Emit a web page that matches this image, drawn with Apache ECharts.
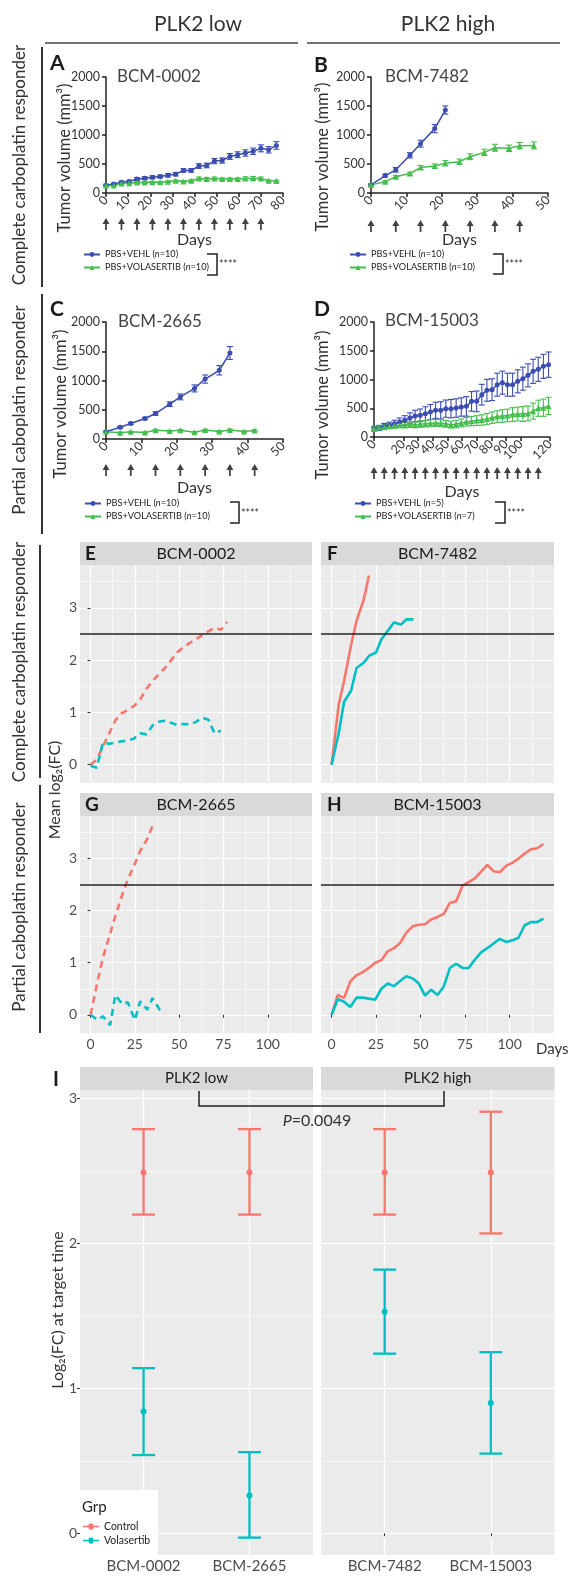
<!DOCTYPE html>
<html>
<head>
<meta charset="utf-8">
<script src="https://cdn.jsdelivr.net/npm/echarts@6/dist/echarts.min.js"></script>
<style>
html, body { margin: 0; padding: 0; background: #fff; }
#main { width: 572px; height: 1580px; }
</style>
</head>
<body>
<div id="main"></div>
<script>
// ---- tumour volumes (mm3), panels A-D ----
var daysA = [0,3.5,7,10.5,14,17.5,21,24.5,28,31.5,35,38.5,42,45.5,49,52.5,56,59.5,63,66.5,70,73.5,77];
var vehlA = [135,155,185,200,240,255,270,285,305,325,390,390,465,475,550,560,630,660,690,720,770,745,820];
var vehlErrA = [15,15,20,20,25,25,25,25,30,30,30,30,40,40,45,45,50,50,55,55,60,55,65];
var volaA = [130,130,165,170,180,180,185,185,195,210,200,210,250,240,250,240,240,240,250,255,250,210,205];
var volaErrA = [10,10,12,12,15,15,15,15,15,15,15,15,25,25,25,20,20,20,30,30,25,15,15];
var doseA = [0,7,14,21,28,35,42,49,56,63,70];

var daysVehlB = [0,4,7,11,14,18,21];
var vehlB = [140,300,400,650,850,1110,1430];
var vehlErrB = [15,25,40,45,60,70,70];
var daysVolaB = [0,4,7,11,14,18,21,25,28,32,35,39,42,46];
var volaB = [140,195,280,335,440,465,515,540,625,700,780,770,815,820];
var volaErrB = [10,15,20,25,35,35,45,45,50,55,60,55,55,60];
var doseB = [0,7,14,21,28,35,42];

var daysVehlC = [0,4,7,11,14,18,21,25,28,32,35];
var vehlC = [125,200,265,350,435,595,720,865,1025,1175,1470];
var vehlErrC = [10,15,20,20,30,40,50,60,70,80,110];
var daysVolaC = [0,4,7,11,14,18,21,25,28,32,35,39,42];
var volaC = [125,108,122,112,150,135,148,115,152,130,155,128,145];
var volaErrC = [10,10,10,10,15,12,12,12,15,12,15,12,12];
var doseC = [0,7,14,21,28,35,42];

var daysD = [0,3.5,7,10.5,14,17.5,21,24.5,28,31.5,35,38.5,42,45.5,49,52.5,56,59.5,63,66.5,70,73.5,77,80.5,84,87.5,91,94.5,98,101.5,105,108.5,112,115.5,119];
var vehlD = [145,157,186,203,232,261,290,330,365,377,406,435,464,464,493,493,504,522,533,620,620,736,812,823,910,945,910,910,968,1014,1072,1142,1177,1229,1258];
var vehlErrD = [40,45,50,55,60,70,80,90,100,110,120,130,140,150,150,160,160,160,170,170,180,180,190,190,200,200,200,200,200,200,200,210,210,210,220];
var volaD = [145,165,175,185,195,205,205,215,210,225,230,240,245,240,230,215,225,245,265,275,285,295,315,335,355,365,375,390,400,400,410,450,500,510,540];
var volaErrD = [30,30,30,35,40,40,45,50,50,55,55,60,60,60,60,60,65,70,75,80,85,90,95,100,100,110,110,120,120,130,130,140,140,150,150];
var doseD = [0,7,14,21,28,35,42,49,56,63,70,77,84,91,98,105,112];

// ---- mean log2(FC), panels E-H ----
var redE = [0,0.1,0.35,0.6,0.85,0.98,1.05,1.12,1.25,1.45,1.6,1.73,1.85,2.0,2.15,2.25,2.33,2.4,2.48,2.55,2.62,2.58,2.73];
var daysTealE = [0,3.5,7,10.5,14,17.5,21,24.5,28,31.5,35,38.5,42,45.5,49,52.5,56,59.5,63,66.5,70,73.5];
var tealE = [-0.02,-0.06,0.42,0.4,0.42,0.45,0.46,0.5,0.6,0.58,0.75,0.82,0.84,0.8,0.76,0.78,0.77,0.82,0.9,0.86,0.6,0.65];

var daysRedF = [0,4,7,11,14,18,21];
var redF = [0,1.15,1.6,2.3,2.75,3.15,3.62];
var daysTealF = [0,4,7,11,14,18,21,25,28,32,35,39,42,46];
var tealF = [0,0.6,1.2,1.42,1.85,1.95,2.08,2.15,2.4,2.58,2.72,2.68,2.78,2.78];

var daysRedG = [0,4,7,11,14,18,21,25,28,32,35];
var redG = [0,0.65,1.1,1.55,1.9,2.32,2.6,2.9,3.15,3.38,3.63];
var daysTealG = [0,4,7,11,14,18,21,25,28,32,35,39,42];
var tealG = [0,-0.1,-0.03,-0.2,0.38,0.2,0.24,-0.1,0.26,0.1,0.32,0.1,0.05];

var redH = [0,0.38,0.32,0.64,0.76,0.82,0.9,1.0,1.05,1.22,1.28,1.38,1.58,1.7,1.73,1.74,1.83,1.88,1.94,2.15,2.18,2.48,2.55,2.62,2.75,2.88,2.76,2.74,2.86,2.92,3.0,3.1,3.18,3.2,3.28];
var tealH = [0,0.3,0.25,0.15,0.33,0.33,0.31,0.29,0.5,0.6,0.55,0.65,0.74,0.7,0.6,0.37,0.48,0.38,0.54,0.9,0.98,0.9,0.9,1.06,1.2,1.28,1.37,1.46,1.4,1.43,1.48,1.72,1.78,1.78,1.85];

// ---- panel I: log2(FC) at target time ----
var iLowCats = ['BCM-0002', 'BCM-2665'];
var iHighCats = ['BCM-7482', 'BCM-15003'];
var ctrlMean = [2.49, 2.49, 2.49, 2.49];
var ctrlLow = [2.2, 2.2, 2.2, 2.07];
var ctrlHigh = [2.79, 2.79, 2.79, 2.91];
var volaMean = [0.84, 0.26, 1.53, 0.9];
var volaLow = [0.54, -0.03, 1.24, 0.55];
var volaHigh = [1.14, 0.56, 1.82, 1.25];

var ggXTicks = [0, 25, 50, 75, 100];
var ggXMinor = [12.5, 37.5, 62.5, 87.5, 112.5];
var ggYTicks = [0, 1, 2, 3];
var ggYMinor = [0.5, 1.5, 2.5, 3.5];

var FONT = 'Lato, "Open Sans", "DejaVu Sans", sans-serif';
var BLUE = '#3B4DB0', GREEN = '#45BE4E', RED = '#F8766D', TEAL = '#00BFC4';
var ARROW = 'path://M4,0L8,6.5L5,6.5L5,13L3,13L3,6.5L0,6.5Z';

function pairs(xs, ys) {
    return xs.map(function (x, i) { return [x, ys[i]]; });
}

// prism style axes
function prismX(gi, max, gap) {
    return {
        type: 'value', gridIndex: gi, min: 0, max: max, interval: 10,
        name: 'Days', nameLocation: 'middle', nameGap: gap, nameMoveOverlap: false,
        nameTextStyle: {fontSize: 16, color: '#333', fontFamily: FONT},
        axisLine: {show: true, lineStyle: {color: '#222', width: 1.5}},
        axisTick: {show: true, length: 4, lineStyle: {color: '#222', width: 1.5}},
        axisLabel: {rotate: 45, fontSize: 12.5, color: '#333', margin: 5, fontFamily: FONT,
            showMinLabel: true, showMaxLabel: true, hideOverlap: false,
            formatter: function (v) { return String(v); }},
        splitLine: {show: false}
    };
}
function prismY(gi) {
    return {
        type: 'value', gridIndex: gi, min: 0, max: 2000, interval: 500,
        axisLine: {show: true, lineStyle: {color: '#222', width: 1.5}},
        axisTick: {show: true, length: 4, lineStyle: {color: '#222', width: 1.5}},
        axisLabel: {fontSize: 12.5, color: '#333', margin: 6, fontFamily: FONT,
            showMinLabel: true, showMaxLabel: true,
            formatter: function (v) { return String(v); }},
        splitLine: {show: false}
    };
}
function hiddenAxis(gi, min, max) {
    return {type: 'value', gridIndex: gi, min: min, max: max, show: false};
}

// ggplot style axes
function ggX(gi, labels, minor) {
    return {
        type: 'value', gridIndex: gi, min: -5.95, max: 124.95, position: minor ? 'top' : 'bottom',
        axisLine: {show: false},
        axisTick: {show: labels, length: 3, customValues: minor ? ggXMinor : ggXTicks, lineStyle: {color: '#333'}},
        axisLabel: {show: labels, customValues: ggXTicks, fontSize: 14, color: '#4D4D4D', margin: 4, fontFamily: FONT},
        splitLine: {show: true, lineStyle: {color: '#fff', width: minor ? 0.6 : 1.2}}
    };
}
function ggY(gi, labels, minor) {
    return {
        type: 'value', gridIndex: gi, min: -0.35, max: 3.82, position: minor ? 'right' : 'left',
        axisLine: {show: false},
        axisTick: {show: labels, length: 3, customValues: minor ? ggYMinor : ggYTicks, lineStyle: {color: '#333'}},
        axisLabel: {show: labels, customValues: ggYTicks, fontSize: 14, color: '#4D4D4D', margin: 3, fontFamily: FONT},
        splitLine: {show: true, lineStyle: {color: '#fff', width: minor ? 0.6 : 1.2}}
    };
}
function iX(gi, cats) {
    return {
        type: 'value', gridIndex: gi, min: 0.4, max: 2.6,
        axisLine: {show: false},
        axisTick: {show: true, length: 3, customValues: [1, 2], lineStyle: {color: '#333'}},
        axisLabel: {customValues: [1, 2], formatter: function (v) { return cats[Math.round(v) - 1]; },
            fontSize: 15, color: '#4D4D4D', margin: 4, fontFamily: FONT},
        splitLine: {show: true, lineStyle: {color: '#fff', width: 1.2}}
    };
}
function iY(gi, labels, minor) {
    return {
        type: 'value', gridIndex: gi, min: -0.15, max: 3.06, position: minor ? 'right' : 'left',
        axisLine: {show: false},
        axisTick: {show: labels, length: 3, customValues: minor ? [0.5, 1.5, 2.5] : [0, 1, 2, 3], lineStyle: {color: '#333'}},
        axisLabel: {show: labels, customValues: [0, 1, 2, 3], fontSize: 14, color: '#4D4D4D', margin: 3, fontFamily: FONT},
        splitLine: {show: true, lineStyle: {color: '#fff', width: minor ? 0.6 : 1.2}}
    };
}

// series helpers
function errBars(ai, xs, ys, es, color) {
    return {
        type: 'custom', xAxisIndex: ai, yAxisIndex: ai, silent: true, z: 3,
        data: xs.map(function (x, i) { return [x, ys[i], es[i]]; }),
        encode: {x: 0, y: 1},
        renderItem: function (params, api) {
            var x = api.value(0), y = api.value(1), e = api.value(2);
            var hi = api.coord([x, y + e]), lo = api.coord([x, y - e]);
            var st = {stroke: color, lineWidth: 1.1, fill: null};
            return {type: 'group', children: [
                {type: 'line', shape: {x1: hi[0], y1: hi[1], x2: lo[0], y2: lo[1]}, style: st},
                {type: 'line', shape: {x1: hi[0] - 3, y1: hi[1], x2: hi[0] + 3, y2: hi[1]}, style: st},
                {type: 'line', shape: {x1: lo[0] - 3, y1: lo[1], x2: lo[0] + 3, y2: lo[1]}, style: st}
            ]};
        }
    };
}
function prismLine(name, ai, xs, ys, color, symbol) {
    return {
        type: 'line', name: name, xAxisIndex: ai, yAxisIndex: ai, data: pairs(xs, ys),
        symbol: symbol, symbolSize: symbol === 'triangle' ? 6 : 5, showSymbol: true,
        lineStyle: {color: color, width: 1.5}, itemStyle: {color: color}, z: 4
    };
}
function arrows(ai, doses) {
    return {
        type: 'scatter', xAxisIndex: ai, yAxisIndex: ai, silent: true,
        data: doses.map(function (d) { return [d, 0.5]; }),
        symbol: ARROW, symbolSize: [7, 12], itemStyle: {color: '#111'}
    };
}
function ggLine(ai, xs, ys, color, dashed, refLine) {
    var s = {
        type: 'line', xAxisIndex: ai, yAxisIndex: ai, data: pairs(xs, ys), silent: true,
        symbol: 'none', showSymbol: false, z: 3,
        lineStyle: {color: color, width: 2.6, type: dashed ? [7, 5] : 'solid', cap: 'butt'},
        itemStyle: {color: color}
    };
    if (refLine) {
        s.markLine = {silent: true, symbol: 'none', label: {show: false}, animation: false,
            lineStyle: {color: '#222', width: 1.5, type: 'solid'}, data: [{yAxis: 2.5}]};
    }
    return s;
}
function iSeries(name, ai, mean, lo, hi, off, color) {
    return {
        type: 'custom', name: name, xAxisIndex: ai, yAxisIndex: ai, z: 4,
        data: [1, 2].map(function (p, i) { return [p, mean[off + i], lo[off + i], hi[off + i]]; }),
        encode: {x: 0, y: 1},
        renderItem: function (params, api) {
            var c = api.coord([api.value(0), api.value(1)]);
            var b = api.coord([api.value(0), api.value(2)]);
            var t = api.coord([api.value(0), api.value(3)]);
            var st = {stroke: color, lineWidth: 2.3, fill: null};
            return {type: 'group', children: [
                {type: 'line', shape: {x1: t[0], y1: t[1], x2: b[0], y2: b[1]}, style: st},
                {type: 'line', shape: {x1: t[0] - 11.5, y1: t[1], x2: t[0] + 11.5, y2: t[1]}, style: st},
                {type: 'line', shape: {x1: b[0] - 11.5, y1: b[1], x2: b[0] + 11.5, y2: b[1]}, style: st},
                {type: 'circle', shape: {cx: c[0], cy: c[1], r: 3}, style: {fill: color}}
            ]};
        }
    };
}
function prismLegend(left, top, names) {
    return {
        orient: 'vertical', left: left, top: top, itemGap: 4, itemWidth: 16, itemHeight: 6, padding: 0,
        selectedMode: false, data: names,
        formatter: function (n) { return n.replace('(n=', '({i|n}='); },
        textStyle: {fontSize: 9.2, color: '#222', fontFamily: FONT,
            rich: {i: {fontStyle: 'italic', fontSize: 9.2, color: '#222', fontFamily: FONT}}}
    };
}

// graphic helpers
function T(x, y, text, size, align, rot, extra) {
    var st = {text: text, fontSize: size, fontFamily: FONT, fill: '#333',
        align: align || 'left', verticalAlign: 'middle',
        textAlign: align || 'left', textVerticalAlign: 'middle'};
    if (extra) { for (var k in extra) { st[k] = extra[k]; } }
    return {type: 'text', x: x, y: y, rotation: rot || 0, z: 30, style: st};
}
function L(points, w, color) {
    return {type: 'polyline', z: 30, shape: {points: points},
        style: {stroke: color || '#333', lineWidth: w || 1.5, fill: null}};
}
function R(x, y, w, h, fill, z) {
    return {type: 'rect', z: z || 1, shape: {x: x, y: y, width: w, height: h}, style: {fill: fill}};
}

var V = Math.PI / 2;
var BOLD = {fontWeight: 'bold', fill: '#1A1A1A'};
var TV = 'Tumor volume (mm³)';
var graphics = [
    T(198, 24, 'PLK2 low', 21, 'center'), T(448, 24, 'PLK2 high', 21, 'center'),
    L([[45, 43], [298, 43]], 1.5, '#444'), L([[307, 43], [560, 43]], 1.5, '#444'),
    T(20, 165, 'Complete carboplatin responder', 17, 'center', V), L([[42, 47], [42, 287]], 2),
    T(20, 410, 'Partial caboplatin responder', 17, 'center', V), L([[42, 294], [42, 534]], 2),
    T(20, 662, 'Complete carboplatin responder', 17, 'center', V), L([[40, 545], [40, 778]], 2),
    T(20, 907, 'Partial caboplatin responder', 17, 'center', V), L([[40, 785], [40, 1033]], 2),
    T(65, 158, TV, 16.5, 'center', V), T(323, 157, TV, 16.5, 'center', V),
    T(61, 404, TV, 16.5, 'center', V), T(323, 405, TV, 16.5, 'center', V),
    T(50, 63, 'A', 21, 'left', 0, BOLD), T(314, 65, 'B', 21, 'left', 0, BOLD),
    T(50, 309, 'C', 21, 'left', 0, BOLD), T(314, 309, 'D', 21, 'left', 0, BOLD),
    T(117, 77, 'BCM-0002', 17, 'left', 0, {fill: '#444'}), T(385, 77, 'BCM-7482', 17, 'left', 0, {fill: '#444'}),
    T(118, 322, 'BCM-2665', 17, 'left', 0, {fill: '#444'}), T(385, 321, 'BCM-15003', 17, 'left', 0, {fill: '#444'}),
    L([[207, 254], [217, 254], [217, 275], [207, 275]], 1.5, '#222'), T(219, 265, '****', 10.5),
    L([[493, 254], [503, 254], [503, 274], [493, 274]], 1.5, '#222'), T(505, 265, '****', 10.5),
    L([[230, 502], [239, 502], [239, 523], [230, 523]], 1.5, '#222'), T(241, 514, '****', 10.5),
    L([[495, 502], [505, 502], [505, 523], [495, 523]], 1.5, '#222'), T(507, 514, '****', 10.5),
    R(80, 542, 232, 23, '#D9D9D9'), R(321, 542, 233, 23, '#D9D9D9'),
    R(80, 793, 232, 23, '#D9D9D9'), R(321, 793, 233, 23, '#D9D9D9'),
    T(85, 554, 'E', 19, 'left', 0, BOLD), T(196, 554, 'BCM-0002', 16, 'center', 0, {fill: '#1A1A1A'}),
    T(327, 554, 'F', 19, 'left', 0, BOLD), T(437.5, 554, 'BCM-7482', 16, 'center', 0, {fill: '#1A1A1A'}),
    T(85, 805, 'G', 19, 'left', 0, BOLD), T(196, 805, 'BCM-2665', 16, 'center', 0, {fill: '#1A1A1A'}),
    T(327, 805, 'H', 19, 'left', 0, BOLD), T(437.5, 805, 'BCM-15003', 16, 'center', 0, {fill: '#1A1A1A'}),
    T(55, 790, 'Mean log₂(FC)', 16, 'center', V),
    T(536, 1049, 'Days', 15, 'left', 0, {fill: '#333'}),
    R(80, 1067, 233, 23, '#D9D9D9'), R(321, 1067, 233.5, 23, '#D9D9D9'),
    T(196.5, 1078.5, 'PLK2 low', 15, 'center', 0, {fill: '#1A1A1A'}),
    T(437.75, 1078.5, 'PLK2 high', 15, 'center', 0, {fill: '#1A1A1A'}),
    T(53, 1080, 'I', 20, 'left', 0, BOLD),
    T(58, 1310, 'Log₂(FC) at target time', 16, 'center', V),
    L([[199, 1091], [199, 1106], [444, 1106], [444, 1091]], 1.5, '#222'),
    T(317, 1121, '{i|P}=0.0049', 16, 'center', 0,
        {rich: {i: {fontStyle: 'italic', fontSize: 16, fontFamily: FONT, fill: '#333'}}}),
    R(80, 1490, 78, 66, '#fff', 10),
    T(82, 1507, 'Grp', 15, 'left', 0, {fill: '#222'})
];

var grids = [
    {left: 106, top: 77, width: 177, height: 116},
    {left: 371, top: 77, width: 177, height: 116},
    {left: 106, top: 322, width: 177, height: 117},
    {left: 374, top: 322, width: 176, height: 115},
    {left: 106, top: 217, width: 177, height: 14},
    {left: 371, top: 219, width: 177, height: 14},
    {left: 106, top: 463, width: 177, height: 14},
    {left: 374, top: 466, width: 176, height: 14},
    {left: 80, top: 565, width: 232, height: 218},
    {left: 321, top: 565, width: 233, height: 218},
    {left: 80, top: 816, width: 232, height: 217},
    {left: 321, top: 816, width: 233, height: 217},
    {left: 80, top: 1090, width: 233, height: 465},
    {left: 321, top: 1090, width: 233.5, height: 465}
].map(function (g, i) {
    g.outerBoundsMode = 'none';
    g.containLabel = false;
    if (i >= 8) { g.show = true; g.backgroundColor = '#EBEBEB'; g.borderWidth = 0; }
    return g;
});

var xAxes = [
    prismX(0, 80, 39), prismX(1, 50, 39), prismX(2, 50, 41), prismX(3, 120, 47),
    hiddenAxis(4, 0, 80), hiddenAxis(5, 0, 50), hiddenAxis(6, 0, 50), hiddenAxis(7, 0, 120),
    ggX(8, false, false), ggX(9, false, false), ggX(10, true, false), ggX(11, true, false),
    ggX(8, false, true), ggX(9, false, true), ggX(10, false, true), ggX(11, false, true),
    iX(12, iLowCats), iX(13, iHighCats)
];
var yAxes = [
    prismY(0), prismY(1), prismY(2), prismY(3),
    hiddenAxis(4, 0, 1), hiddenAxis(5, 0, 1), hiddenAxis(6, 0, 1), hiddenAxis(7, 0, 1),
    ggY(8, true, false), ggY(9, false, false), ggY(10, true, false), ggY(11, false, false),
    ggY(8, false, true), ggY(9, false, true), ggY(10, false, true), ggY(11, false, true),
    iY(12, true, false), iY(13, false, false), iY(12, false, true), iY(13, false, true)
];

var V10 = 'PBS+VEHL (n=10)', VO10 = 'PBS+VOLASERTIB (n=10)';
var V5 = 'PBS+VEHL (n=5)', VO7 = 'PBS+VOLASERTIB (n=7)';

var series = [
    errBars(0, daysA, vehlA, vehlErrA, BLUE), errBars(0, daysA, volaA, volaErrA, GREEN),
    prismLine(V10, 0, daysA, vehlA, BLUE, 'circle'), prismLine(VO10, 0, daysA, volaA, GREEN, 'triangle'),
    errBars(1, daysVehlB, vehlB, vehlErrB, BLUE), errBars(1, daysVolaB, volaB, volaErrB, GREEN),
    prismLine(V10, 1, daysVehlB, vehlB, BLUE, 'circle'), prismLine(VO10, 1, daysVolaB, volaB, GREEN, 'triangle'),
    errBars(2, daysVehlC, vehlC, vehlErrC, BLUE), errBars(2, daysVolaC, volaC, volaErrC, GREEN),
    prismLine(V10, 2, daysVehlC, vehlC, BLUE, 'circle'), prismLine(VO10, 2, daysVolaC, volaC, GREEN, 'triangle'),
    errBars(3, daysD, vehlD, vehlErrD, BLUE), errBars(3, daysD, volaD, volaErrD, GREEN),
    prismLine(V5, 3, daysD, vehlD, BLUE, 'circle'), prismLine(VO7, 3, daysD, volaD, GREEN, 'triangle'),
    arrows(4, doseA), arrows(5, doseB), arrows(6, doseC), arrows(7, doseD),
    ggLine(8, daysA, redE, RED, true, true), ggLine(8, daysTealE, tealE, TEAL, true),
    ggLine(9, daysRedF, redF, RED, false, true), ggLine(9, daysTealF, tealF, TEAL, false),
    ggLine(10, daysRedG, redG, RED, true, true), ggLine(10, daysTealG, tealG, TEAL, true),
    ggLine(11, daysD, redH, RED, false, true), ggLine(11, daysD, tealH, TEAL, false),
    iSeries('Control', 16, ctrlMean, ctrlLow, ctrlHigh, 0, RED),
    iSeries('Volasertib', 16, volaMean, volaLow, volaHigh, 0, TEAL),
    iSeries('Control', 17, ctrlMean, ctrlLow, ctrlHigh, 2, RED),
    iSeries('Volasertib', 17, volaMean, volaLow, volaHigh, 2, TEAL)
];

var KEY = 'path://M0,3.5h5.5a2.5,2.5,0,0,1,5,0h5.5v1.5h-5.5a2.5,2.5,0,0,1,-5,0h-5.5z';
var legends = [
    prismLegend(83, 250, [V10, VO10]),
    prismLegend(349, 250, [V10, VO10]),
    prismLegend(84, 499, [V10, VO10]),
    prismLegend(354, 499, [V5, VO7]),
    {
        orient: 'vertical', left: 83, top: 1521, itemGap: 3, itemWidth: 16, itemHeight: 6.5, padding: 0,
        selectedMode: false, z: 40,
        data: [{name: 'Control', icon: KEY, itemStyle: {color: RED}}, {name: 'Volasertib', icon: KEY, itemStyle: {color: TEAL}}],
        textStyle: {fontSize: 10.5, color: '#222', fontFamily: FONT}
    }
];

var chart = echarts.init(document.getElementById('main'), null, {renderer: 'canvas'});
chart.setOption({
    animation: false,
    backgroundColor: '#fff',
    textStyle: {fontFamily: FONT},
    grid: grids,
    xAxis: xAxes,
    yAxis: yAxes,
    legend: legends,
    series: series,
    graphic: {elements: graphics}
});
</script>
</body>
</html>
